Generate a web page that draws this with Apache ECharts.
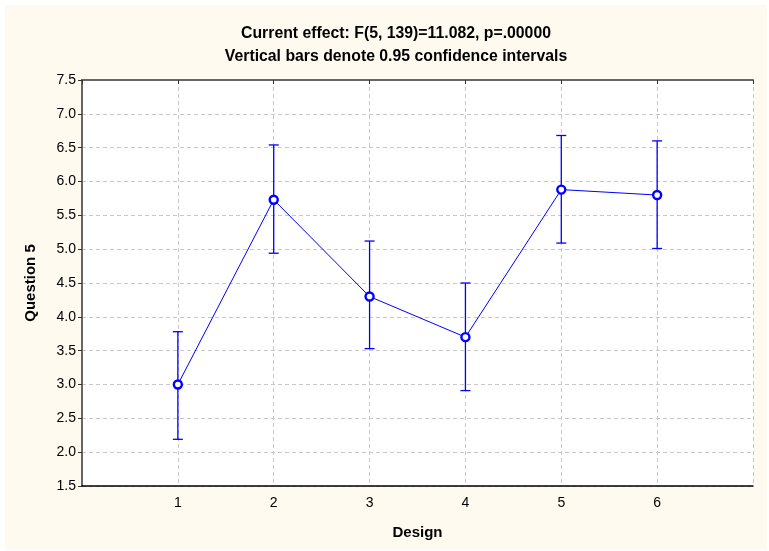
<!DOCTYPE html>
<html>
<head>
<meta charset="utf-8">
<script src="https://cdn.jsdelivr.net/npm/echarts@6/dist/echarts.min.js"></script>
<style>
  html, body { margin: 0; padding: 0; background: #ffffff; }
  #main { position: absolute; left: 5px; top: 5px; width: 762px; height: 545px; }
</style>
</head>
<body>
<div id="main"></div>
<script>
// data
var designs = [1, 2, 3, 4, 5, 6];
var means = [3.00, 5.73, 4.30, 3.70, 5.88, 5.80];
var ciLow = [2.19, 4.94, 3.53, 2.91, 5.09, 5.01];
var ciHigh = [3.78, 6.54, 5.12, 4.50, 6.68, 6.60];
var yTicks = [1.5, 7.5, 0.5]; // min, max, step

var chart = echarts.init(document.getElementById('main'));

var meanData = designs.map(function (d, i) { return [d, means[i]]; });
var errData = designs.map(function (d, i) { return [d, ciLow[i], ciHigh[i]]; });

var font = 'Arial, "Liberation Sans", sans-serif';
var blue = '#0000ff';

var option = {
  backgroundColor: '#fffaf0',
  animation: false,
  title: {
    text: 'Current effect: F(5, 139)=11.082, p=.00000\nVertical bars denote 0.95 confidence intervals',
    left: 386,
    textAlign: 'center',
    top: 12,
    textStyle: { fontFamily: font, fontSize: 15.8, fontWeight: 'bold', color: '#000', lineHeight: 23 }
  },
  grid: {
    left: 77, top: 75, width: 671, height: 406,
    show: true, backgroundColor: '#ffffff', borderWidth: 0
  },
  xAxis: [{
    type: 'value', min: 0, max: 7, interval: 1,
    name: 'Design', nameLocation: 'middle', nameGap: 39,
    nameTextStyle: { fontFamily: font, fontSize: 15, fontWeight: 'bold', color: '#000' },
    axisLine: { onZero: false, lineStyle: { color: '#000', width: 1.5 } },
    axisTick: { show: false },
    axisLabel: {
      margin: 10, fontFamily: font, fontSize: 14, color: '#000',
      formatter: function (v) { return (v >= 1 && v <= 6) ? String(v) : ''; }
    },
    splitLine: { show: true, lineStyle: { color: '#c8c8c8', type: [4, 3] } }
  }, {
    type: 'value', min: 0, max: 7, interval: 1, position: 'top',
    axisLine: { show: true, lineStyle: { color: '#666', width: 2 } },
    axisTick: { show: true, inside: true, length: 4, lineStyle: { color: '#333' } },
    axisLabel: { show: false }, splitLine: { show: false }
  }],
  yAxis: [{
    type: 'value', min: yTicks[0], max: yTicks[1], interval: yTicks[2],
    name: 'Question 5', nameLocation: 'middle', nameGap: 44,
    nameTextStyle: { fontFamily: font, fontSize: 15, fontWeight: 'bold', color: '#000' },
    axisLine: { show: true, onZero: false, lineStyle: { color: '#000', width: 1.5 } },
    axisTick: { show: true, length: 4, lineStyle: { color: '#000' } },
    axisLabel: {
      margin: 6, fontFamily: font, fontSize: 14, color: '#000',
      formatter: function (v) { return v.toFixed(1); }
    },
    splitLine: { show: true, lineStyle: { color: '#c8c8c8', type: [4, 3] } }
  }, {
    type: 'value', min: yTicks[0], max: yTicks[1], interval: yTicks[2], position: 'right',
    axisLine: { show: true, lineStyle: { color: '#666', width: 2 } },
    axisTick: { show: true, inside: true, length: 4, lineStyle: { color: '#333' } },
    axisLabel: { show: false }, splitLine: { show: false }
  }],
  series: [{
    type: 'custom',
    data: errData,
    z: 2,
    renderItem: function (params, api) {
      var x = api.value(0);
      var lo = api.coord([x, api.value(1)]);
      var hi = api.coord([x, api.value(2)]);
      var w = 5;
      var style = { stroke: blue, lineWidth: 1.3 };
      return {
        type: 'group',
        children: [
          { type: 'line', shape: { x1: lo[0], y1: lo[1], x2: hi[0], y2: hi[1] }, style: style },
          { type: 'line', shape: { x1: lo[0] - w, y1: lo[1], x2: lo[0] + w, y2: lo[1] }, style: style },
          { type: 'line', shape: { x1: hi[0] - w, y1: hi[1], x2: hi[0] + w, y2: hi[1] }, style: style }
        ]
      };
    }
  }, {
    type: 'line',
    data: meanData,
    z: 3,
    symbol: 'circle',
    symbolSize: 8,
    lineStyle: { color: blue, width: 1 },
    itemStyle: { color: '#ffffff', borderColor: blue, borderWidth: 2.4 }
  }]
};

chart.setOption(option);
</script>
</body>
</html>
